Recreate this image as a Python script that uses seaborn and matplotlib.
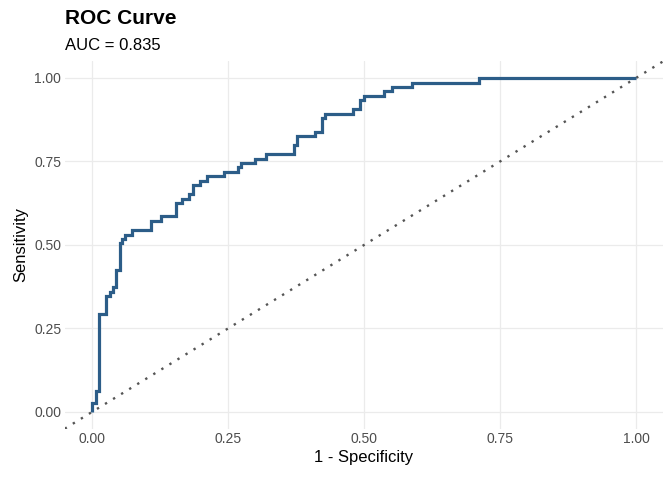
import matplotlib
matplotlib.use("Agg")
import matplotlib.pyplot as plt
import seaborn as sns
import pandas as pd

# ROC step corners: x where each jump happens, sensitivity after the jump
fpr = [0.000, 0.000, 0.007, 0.0123, 0.026, 0.0325, 0.0386, 0.045, 0.0515, 0.056,
       0.0605, 0.074, 0.109, 0.127, 0.154, 0.165, 0.179, 0.185, 0.198, 0.211,
       0.243, 0.268, 0.274, 0.300, 0.320, 0.372, 0.377, 0.410, 0.423, 0.429,
       0.480, 0.493, 0.500, 0.537, 0.551, 0.589, 0.711, 1.000]
tpr = [0.000, 0.028, 0.064, 0.293, 0.346, 0.358, 0.373, 0.424, 0.505, 0.518,
       0.531, 0.545, 0.572, 0.586, 0.625, 0.639, 0.652, 0.680, 0.691, 0.707,
       0.718, 0.733, 0.745, 0.758, 0.772, 0.799, 0.826, 0.838, 0.879, 0.892,
       0.906, 0.934, 0.946, 0.960, 0.973, 0.984, 1.000, 1.000]
auc = 0.835
ticks = [0.00, 0.25, 0.50, 0.75, 1.00]

roc = pd.DataFrame({"fpr": fpr, "tpr": tpr})

sns.set_theme(style="whitegrid")
plt.rcParams["font.family"] = ["Liberation Sans", "DejaVu Sans"]

fig = plt.figure(figsize=(6.72, 4.8), dpi=100)
ax = fig.add_axes([0.0964, 0.1069, 0.8905, 0.7654])

ax.axline((0, 0), (1, 1), color="#555555", lw=1.7, ls=(0, (1, 3)), zorder=1)
sns.lineplot(data=roc, x="fpr", y="tpr", ax=ax, sort=False, estimator=None,
             drawstyle="steps-post", color="#2C5D88", lw=2.3, zorder=3,
             solid_capstyle="butt", solid_joinstyle="miter")

ax.set_xlim(-0.05, 1.05)
ax.set_ylim(-0.05, 1.05)
ax.set_xticks(ticks)
ax.set_yticks(ticks)
ax.set_xticklabels([f"{t:.2f}" for t in ticks])
ax.set_yticklabels([f"{t:.2f}" for t in ticks])
ax.tick_params(length=0, pad=2.5, labelsize=10, labelcolor="#4D4D4D")
ax.grid(True, color="#EBEBEB", lw=0.9)
ax.set_facecolor("white")
for s in ax.spines.values():
    s.set_visible(False)

ax.set_xlabel("1 - Specificity", fontsize=12, color="black", labelpad=3)
ax.set_ylabel("Sensitivity", fontsize=12, color="black", labelpad=4)

fig.text(0.0964, 0.949, "ROC Curve", fontsize=15, fontweight="bold",
         color="black", va="baseline", ha="left")
fig.text(0.0964, 0.896, f"AUC = {auc:.3f}", fontsize=12,
         color="black", va="baseline", ha="left")

fig.savefig("out.png", dpi=100, facecolor="white")
